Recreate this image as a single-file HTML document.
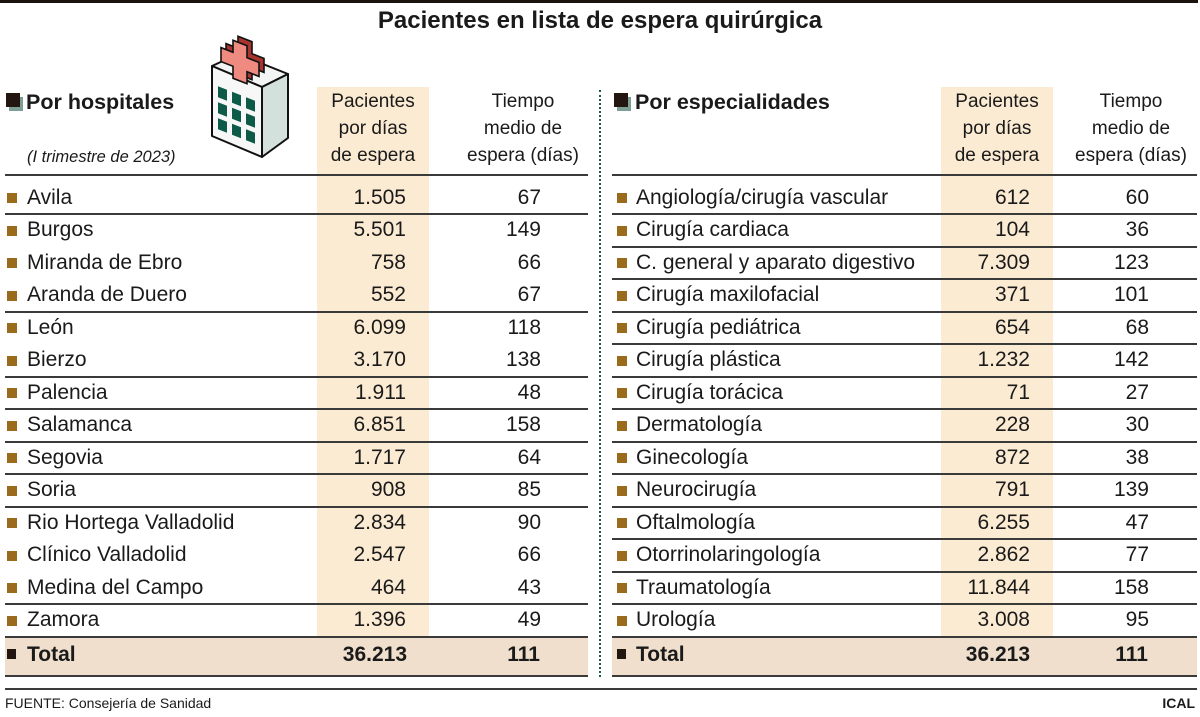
<!DOCTYPE html>
<html><head><meta charset="utf-8">
<style>
*{margin:0;padding:0;box-sizing:border-box}
html,body{width:1200px;height:717px;overflow:hidden;background:#fff}
body{position:relative;font-family:"Liberation Sans",Arial,sans-serif;color:#1a1a1a}
.a{position:absolute;white-space:nowrap}
.t{font-size:21px;line-height:30px;height:30px}
.r{text-align:right}
.c{text-align:center}
.b{font-weight:bold}
.ln{position:absolute;height:2px;background:#3a3a3a}
.bu{position:absolute;width:10px;height:10px;background:#9a6a1d}
.bk{position:absolute;width:9px;height:10px;background:#231510}
.hd{font-size:19px;line-height:27px}
</style></head><body>

<div class="a" style="left:0;top:0;width:1198px;height:3px;background:#1a120c"></div>
<div class="a c b" style="left:300px;top:6px;width:600px;font-size:24px;line-height:30px">Pacientes en lista de espera quirúrgica</div>

<div class="a" style="left:317px;top:87px;width:112px;height:550px;background:#fcebd3"></div>
<div class="a" style="left:941px;top:87px;width:112px;height:550px;background:#fcebd3"></div>
<div class="a" style="left:5px;top:637px;width:583px;height:39px;background:#f0dfcc"></div>
<div class="a" style="left:612px;top:637px;width:585px;height:39px;background:#f0dfcc"></div>

<div class="a" style="left:599px;top:90px;width:3px;height:587px;border-left:2px dotted #1f5a4a"></div>

<div class="a" style="left:9px;top:97px;width:14px;height:14px;background:#7f9e95"></div>
<div class="a" style="left:6px;top:93px;width:14px;height:14px;background:#231510"></div>
<div class="a b" style="left:26px;top:87px;font-size:21.5px;line-height:30px">Por hospitales</div>
<div class="a" style="left:27px;top:146px;font-size:16.5px;line-height:22px;font-style:italic">(I trimestre de 2023)</div>

<div class="a" style="left:617px;top:97px;width:14px;height:14px;background:#7f9e95"></div>
<div class="a" style="left:614px;top:93px;width:14px;height:14px;background:#231510"></div>
<div class="a b" style="left:635px;top:87px;font-size:21.5px;line-height:30px">Por especialidades</div>

<svg class="a" style="left:0;top:0" width="320" height="180" viewBox="0 0 320 180">
  <g stroke="#111" stroke-width="2" stroke-linejoin="round">
    <polygon points="212,66 238,54 288,74 262,87" fill="#f3f5f4"/>
    <polygon points="262,87 288,74 288,138 262,157" fill="#d3e0db"/>
    <polygon points="212,66 262,87 262,157 212,136" fill="#f6f7f6"/>
  </g>
  <g fill="#0e5a48">
    <polygon points="218,86.3 227,89.8 227,100.8 218,97.3"/>
    <polygon points="232,91.8 241,95.3 241,106.3 232,102.8"/>
    <polygon points="246,97.3 255,100.8 255,111.8 246,108.3"/>
    <polygon points="218,102.3 227,105.8 227,116.8 218,113.3"/>
    <polygon points="232,107.8 241,111.3 241,122.3 232,118.8"/>
    <polygon points="246,113.3 255,116.8 255,127.8 246,124.3"/>
    <polygon points="218,118.3 227,121.8 227,132.8 218,129.3"/>
    <polygon points="232,123.8 241,127.3 241,138.3 232,134.8"/>
    <polygon points="246,129.3 255,132.8 255,143.8 246,140.3"/>
  </g>
  <g transform="matrix(1,0.39,0,1,245,58)">
    <polygon points="-7,-19 7,-19 7,-7 19,-7 19,7 7,7 7,19 -7,19 -7,7 -19,7 -19,-7 -7,-7" fill="#a8342f" stroke="#111" stroke-width="1.6" vector-effect="non-scaling-stroke"/>
  </g>
  <g transform="matrix(1,0.39,0,1,240,62)">
    <polygon points="-7,-19 7,-19 7,-7 19,-7 19,7 7,7 7,19 -7,19 -7,7 -19,7 -19,-7 -7,-7" fill="#ee8a7f" stroke="#111" stroke-width="1.6" vector-effect="non-scaling-stroke"/>
  </g>
</svg>

<div class="a c hd" style="left:313px;top:87.5px;width:120px">Pacientes<br>por días<br>de espera</div>
<div class="a c hd" style="left:453px;top:87.5px;width:140px">Tiempo<br>medio de<br>espera (días)</div>
<div class="a c hd" style="left:937px;top:87.5px;width:120px">Pacientes<br>por días<br>de espera</div>
<div class="a c hd" style="left:1061px;top:87.5px;width:140px">Tiempo<br>medio de<br>espera (días)</div>

<div class="ln" style="left:5px;top:174px;width:583px"></div>
<div class="ln" style="left:612px;top:174px;width:585px"></div>

<div class="ln" style="left:5px;top:213px;width:583px"></div>
<div class="ln" style="left:5px;top:310.5px;width:583px"></div>
<div class="ln" style="left:5px;top:375.5px;width:583px"></div>
<div class="ln" style="left:5px;top:408px;width:583px"></div>
<div class="ln" style="left:5px;top:440.5px;width:583px"></div>
<div class="ln" style="left:5px;top:473px;width:583px"></div>
<div class="ln" style="left:5px;top:505.5px;width:583px"></div>
<div class="ln" style="left:5px;top:603px;width:583px"></div>
<div class="ln" style="left:5px;top:636px;width:583px"></div>
<div class="ln" style="left:5px;top:675px;width:583px"></div>

<div class="ln" style="left:612px;top:213px;width:585px"></div>
<div class="ln" style="left:612px;top:245.5px;width:585px"></div>
<div class="ln" style="left:612px;top:278px;width:585px"></div>
<div class="ln" style="left:612px;top:310.5px;width:585px"></div>
<div class="ln" style="left:612px;top:343px;width:585px"></div>
<div class="ln" style="left:612px;top:375.5px;width:585px"></div>
<div class="ln" style="left:612px;top:408px;width:585px"></div>
<div class="ln" style="left:612px;top:440.5px;width:585px"></div>
<div class="ln" style="left:612px;top:473px;width:585px"></div>
<div class="ln" style="left:612px;top:505.5px;width:585px"></div>
<div class="ln" style="left:612px;top:538px;width:585px"></div>
<div class="ln" style="left:612px;top:570.5px;width:585px"></div>
<div class="ln" style="left:612px;top:603px;width:585px"></div>
<div class="ln" style="left:612px;top:636px;width:585px"></div>
<div class="ln" style="left:612px;top:675px;width:585px"></div>

<div class="bu" style="left:7px;top:193px"></div>
<div class="a t" style="left:27px;top:182.75px">Avila</div>
<div class="a t r" style="left:306px;top:182.75px;width:100px">1.505</div>
<div class="a t r" style="left:441px;top:182.75px;width:100px">67</div>

<div class="bu" style="left:7px;top:225.5px"></div>
<div class="a t" style="left:27px;top:215.25px">Burgos</div>
<div class="a t r" style="left:306px;top:215.25px;width:100px">5.501</div>
<div class="a t r" style="left:441px;top:215.25px;width:100px">149</div>

<div class="bu" style="left:7px;top:258px"></div>
<div class="a t" style="left:27px;top:247.75px">Miranda de Ebro</div>
<div class="a t r" style="left:306px;top:247.75px;width:100px">758</div>
<div class="a t r" style="left:441px;top:247.75px;width:100px">66</div>

<div class="bu" style="left:7px;top:290.5px"></div>
<div class="a t" style="left:27px;top:280.25px">Aranda de Duero</div>
<div class="a t r" style="left:306px;top:280.25px;width:100px">552</div>
<div class="a t r" style="left:441px;top:280.25px;width:100px">67</div>

<div class="bu" style="left:7px;top:323px"></div>
<div class="a t" style="left:27px;top:312.75px">León</div>
<div class="a t r" style="left:306px;top:312.75px;width:100px">6.099</div>
<div class="a t r" style="left:441px;top:312.75px;width:100px">118</div>

<div class="bu" style="left:7px;top:355.5px"></div>
<div class="a t" style="left:27px;top:345.25px">Bierzo</div>
<div class="a t r" style="left:306px;top:345.25px;width:100px">3.170</div>
<div class="a t r" style="left:441px;top:345.25px;width:100px">138</div>

<div class="bu" style="left:7px;top:388px"></div>
<div class="a t" style="left:27px;top:377.75px">Palencia</div>
<div class="a t r" style="left:306px;top:377.75px;width:100px">1.911</div>
<div class="a t r" style="left:441px;top:377.75px;width:100px">48</div>

<div class="bu" style="left:7px;top:420.5px"></div>
<div class="a t" style="left:27px;top:410.25px">Salamanca</div>
<div class="a t r" style="left:306px;top:410.25px;width:100px">6.851</div>
<div class="a t r" style="left:441px;top:410.25px;width:100px">158</div>

<div class="bu" style="left:7px;top:453px"></div>
<div class="a t" style="left:27px;top:442.75px">Segovia</div>
<div class="a t r" style="left:306px;top:442.75px;width:100px">1.717</div>
<div class="a t r" style="left:441px;top:442.75px;width:100px">64</div>

<div class="bu" style="left:7px;top:485.5px"></div>
<div class="a t" style="left:27px;top:475.25px">Soria</div>
<div class="a t r" style="left:306px;top:475.25px;width:100px">908</div>
<div class="a t r" style="left:441px;top:475.25px;width:100px">85</div>

<div class="bu" style="left:7px;top:518px"></div>
<div class="a t" style="left:27px;top:507.75px">Rio Hortega Valladolid</div>
<div class="a t r" style="left:306px;top:507.75px;width:100px">2.834</div>
<div class="a t r" style="left:441px;top:507.75px;width:100px">90</div>

<div class="bu" style="left:7px;top:550.5px"></div>
<div class="a t" style="left:27px;top:540.25px">Clínico Valladolid</div>
<div class="a t r" style="left:306px;top:540.25px;width:100px">2.547</div>
<div class="a t r" style="left:441px;top:540.25px;width:100px">66</div>

<div class="bu" style="left:7px;top:583px"></div>
<div class="a t" style="left:27px;top:572.75px">Medina del Campo</div>
<div class="a t r" style="left:306px;top:572.75px;width:100px">464</div>
<div class="a t r" style="left:441px;top:572.75px;width:100px">43</div>

<div class="bu" style="left:7px;top:615.5px"></div>
<div class="a t" style="left:27px;top:605.25px">Zamora</div>
<div class="a t r" style="left:306px;top:605.25px;width:100px">1.396</div>
<div class="a t r" style="left:441px;top:605.25px;width:100px">49</div>

<div class="bk" style="left:7px;top:649px"></div>
<div class="a t b" style="left:27px;top:640px">Total</div>
<div class="a t r b" style="left:307px;top:640px;width:100px">36.213</div>
<div class="a t r b" style="left:440px;top:640px;width:100px">111</div>

<div class="bu" style="left:617px;top:193px"></div>
<div class="a t" style="left:636px;top:182.75px">Angiología/cirugía vascular</div>
<div class="a t r" style="left:930px;top:182.75px;width:100px">612</div>
<div class="a t r" style="left:1049px;top:182.75px;width:100px">60</div>

<div class="bu" style="left:617px;top:225.5px"></div>
<div class="a t" style="left:636px;top:215.25px">Cirugía cardiaca</div>
<div class="a t r" style="left:930px;top:215.25px;width:100px">104</div>
<div class="a t r" style="left:1049px;top:215.25px;width:100px">36</div>

<div class="bu" style="left:617px;top:258px"></div>
<div class="a t" style="left:636px;top:247.75px">C. general y aparato digestivo</div>
<div class="a t r" style="left:930px;top:247.75px;width:100px">7.309</div>
<div class="a t r" style="left:1049px;top:247.75px;width:100px">123</div>

<div class="bu" style="left:617px;top:290.5px"></div>
<div class="a t" style="left:636px;top:280.25px">Cirugía maxilofacial</div>
<div class="a t r" style="left:930px;top:280.25px;width:100px">371</div>
<div class="a t r" style="left:1049px;top:280.25px;width:100px">101</div>

<div class="bu" style="left:617px;top:323px"></div>
<div class="a t" style="left:636px;top:312.75px">Cirugía pediátrica</div>
<div class="a t r" style="left:930px;top:312.75px;width:100px">654</div>
<div class="a t r" style="left:1049px;top:312.75px;width:100px">68</div>

<div class="bu" style="left:617px;top:355.5px"></div>
<div class="a t" style="left:636px;top:345.25px">Cirugía plástica</div>
<div class="a t r" style="left:930px;top:345.25px;width:100px">1.232</div>
<div class="a t r" style="left:1049px;top:345.25px;width:100px">142</div>

<div class="bu" style="left:617px;top:388px"></div>
<div class="a t" style="left:636px;top:377.75px">Cirugía torácica</div>
<div class="a t r" style="left:930px;top:377.75px;width:100px">71</div>
<div class="a t r" style="left:1049px;top:377.75px;width:100px">27</div>

<div class="bu" style="left:617px;top:420.5px"></div>
<div class="a t" style="left:636px;top:410.25px">Dermatología</div>
<div class="a t r" style="left:930px;top:410.25px;width:100px">228</div>
<div class="a t r" style="left:1049px;top:410.25px;width:100px">30</div>

<div class="bu" style="left:617px;top:453px"></div>
<div class="a t" style="left:636px;top:442.75px">Ginecología</div>
<div class="a t r" style="left:930px;top:442.75px;width:100px">872</div>
<div class="a t r" style="left:1049px;top:442.75px;width:100px">38</div>

<div class="bu" style="left:617px;top:485.5px"></div>
<div class="a t" style="left:636px;top:475.25px">Neurocirugía</div>
<div class="a t r" style="left:930px;top:475.25px;width:100px">791</div>
<div class="a t r" style="left:1049px;top:475.25px;width:100px">139</div>

<div class="bu" style="left:617px;top:518px"></div>
<div class="a t" style="left:636px;top:507.75px">Oftalmología</div>
<div class="a t r" style="left:930px;top:507.75px;width:100px">6.255</div>
<div class="a t r" style="left:1049px;top:507.75px;width:100px">47</div>

<div class="bu" style="left:617px;top:550.5px"></div>
<div class="a t" style="left:636px;top:540.25px">Otorrinolaringología</div>
<div class="a t r" style="left:930px;top:540.25px;width:100px">2.862</div>
<div class="a t r" style="left:1049px;top:540.25px;width:100px">77</div>

<div class="bu" style="left:617px;top:583px"></div>
<div class="a t" style="left:636px;top:572.75px">Traumatología</div>
<div class="a t r" style="left:930px;top:572.75px;width:100px">11.844</div>
<div class="a t r" style="left:1049px;top:572.75px;width:100px">158</div>

<div class="bu" style="left:617px;top:615.5px"></div>
<div class="a t" style="left:636px;top:605.25px">Urología</div>
<div class="a t r" style="left:930px;top:605.25px;width:100px">3.008</div>
<div class="a t r" style="left:1049px;top:605.25px;width:100px">95</div>

<div class="bk" style="left:617px;top:649px"></div>
<div class="a t b" style="left:636px;top:640px">Total</div>
<div class="a t r b" style="left:930px;top:640px;width:100px">36.213</div>
<div class="a t r b" style="left:1048px;top:640px;width:100px">111</div>

<div class="ln" style="left:5px;top:688px;width:1192px"></div>
<div class="a" style="left:5px;top:694px;font-size:14px;line-height:18px">FUENTE: Consejería de Sanidad</div>
<div class="a b r" style="left:1095px;top:694px;width:100px;font-size:14px;line-height:18px">ICAL</div>

</body></html>
